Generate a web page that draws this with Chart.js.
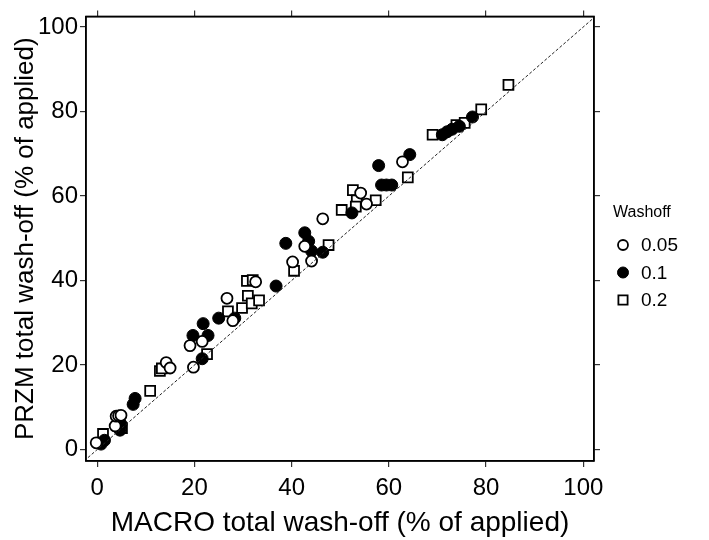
<!DOCTYPE html>
<html>
<head>
<meta charset="utf-8">
<script src="https://cdn.jsdelivr.net/npm/chart.js@4.4.1/dist/chart.umd.min.js"></script>
<style>
  html, body { margin: 0; padding: 0; background: #fff; }
  #wrap { width: 709px; height: 540px; }
</style>
</head>
<body>
<div id="wrap"><canvas id="chart" width="709" height="540"></canvas></div>
<script>
// MACRO (x) vs PRZM (y) total wash-off, % of applied
const washoff005 = [
  [-0.2, 1.6], [3.7, 5.6], [3.9, 7.9], [4.4, 8], [4.9, 8.1], [14.2, 20.6], [15, 19.3],
  [19.1, 24.6], [21.6, 25.6], [19.8, 19.5], [26.7, 35.8], [27.9, 30.5], [32.6, 39.7],
  [40.2, 44.4], [42.7, 48.1], [44.1, 44.6], [46.4, 54.6], [54.2, 60.7], [55.4, 58.1], [62.8, 68.1]
];
const washoff01 = [
  [0.8, 1.3], [1.5, 2.2], [4.9, 6], [4.7, 4.6], [7.4, 10.7], [7.8, 12.1], [19.7, 27], [22.8, 27],
  [21.6, 21.5], [21.8, 29.8], [25, 31.1], [28.3, 31.1], [36.8, 38.7], [38.8, 48.8], [42.7, 51.3],
  [43.5, 49.3], [44.1, 47], [46.4, 46.7], [52.4, 56], [57.9, 67.2], [58.5, 62.6], [59.5, 62.6],
  [60.6, 62.6], [64.3, 69.8], [71, 74.5], [72, 75.2], [73, 75.8], [74.5, 76.5], [77.2, 78.7]
];
const washoff02 = [
  [1.2, 3.7], [5.1, 5.1], [10.9, 13.9], [12.9, 18.6], [13.3, 19.2], [22.6, 22.6], [26.9, 32.7],
  [29.8, 33.5], [31, 36.4], [31.8, 34.6], [33.3, 35.3], [30.8, 39.9], [32, 40.1], [40.5, 42.3],
  [47.6, 48.4], [50.3, 56.7], [52.6, 61.4], [53.4, 59], [53.2, 57.5], [57.3, 59], [63.9, 64.4],
  [69, 74.5], [73.9, 76.8], [75.6, 77.3], [79, 80.5], [84.6, 86.3]
];
const oneToOne = [[-5, -5], [105, 105]];
const tickValues = [0, 20, 40, 60, 80, 100];
const legendTitle = 'Washoff';
const legendLabels = ['0.05', '0.1', '0.2'];
const xTitle = 'MACRO total wash-off (% of applied)';
const yTitle = 'PRZM total wash-off (% of applied)';

const FONT = '"Liberation Sans", Arial, Helvetica, sans-serif';
const toXY = arr => arr.map(([x, y]) => ({ x, y }));

const seriesStyles = [
  { pointStyle: 'circle', radius: 5.5, backgroundColor: '#fff', borderColor: '#000', borderWidth: 1.8 },
  { pointStyle: 'circle', radius: 6, backgroundColor: '#000', borderColor: '#000', borderWidth: 1 },
  { pointStyle: 'rect', radius: 7, backgroundColor: '#fff', borderColor: '#000', borderWidth: 1.8 }
];

const seriesData = [washoff005, washoff01, washoff02];
const datasets = seriesData.map((d, i) => ({
  label: legendLabels[i],
  data: toXY(d),
  showLine: false,
  pointStyle: seriesStyles[i].pointStyle,
  pointRadius: seriesStyles[i].radius,
  pointHoverRadius: seriesStyles[i].radius,
  pointBackgroundColor: seriesStyles[i].backgroundColor,
  pointBorderColor: seriesStyles[i].borderColor,
  pointBorderWidth: seriesStyles[i].borderWidth
}));
datasets.unshift({
  label: '1:1',
  data: toXY(oneToOne),
  showLine: true,
  borderColor: '#222',
  borderWidth: 1,
  borderDash: [3, 2],
  pointRadius: 0
});

const fixTicks = scale => { scale.ticks = tickValues.map(v => ({ value: v })); };

// box round the plot plus the legend on the right
const framePlugin = {
  id: 'frame',
  afterDraw(chart) {
    const { ctx, chartArea: a } = chart;
    ctx.save();
    ctx.strokeStyle = '#000';
    ctx.lineWidth = 1.5;
    ctx.strokeRect(a.left, a.top, a.right - a.left, a.bottom - a.top);

    ctx.fillStyle = '#000';
    ctx.textBaseline = 'middle';
    ctx.textAlign = 'left';
    ctx.font = '16px ' + FONT;
    ctx.fillText(legendTitle, 613, 213);
    ctx.font = '19px ' + FONT;
    legendLabels.forEach((lab, i) => {
      const y = 245 + i * 27.5;
      const s = seriesStyles[i];
      ctx.fillStyle = s.backgroundColor;
      ctx.strokeStyle = s.borderColor;
      ctx.lineWidth = s.borderWidth;
      Chart.helpers.drawPoint(ctx, { pointStyle: s.pointStyle, radius: s.radius - 0.5, borderWidth: s.borderWidth, rotation: 0 }, 623, y);
      ctx.fillStyle = '#000';
      ctx.fillText(lab, 641, y + 1);
    });
    ctx.restore();
  }
};

const axisCommon = {
  type: 'linear',
  grid: { drawOnChartArea: false, drawTicks: true, tickLength: 6, color: '#333', lineWidth: 1.2 },
  border: { display: true, color: '#000', width: 1.5 }
};

new Chart(document.getElementById('chart'), {
  type: 'scatter',
  data: { datasets },
  plugins: [framePlugin],
  options: {
    responsive: false,
    animation: false,
    events: [],
    layout: { padding: { left: 0, right: 0, top: 0, bottom: 0 } },
    plugins: { legend: { display: false }, tooltip: { enabled: false } },
    scales: {
      x: {
        ...axisCommon,
        position: 'bottom',
        min: -2.3, max: 102.2,
        afterBuildTicks: fixTicks,
        afterFit: s => { s.height = 79; },
        ticks: { color: '#000', font: { family: FONT, size: 24 }, padding: 7, maxRotation: 0 },
        title: { display: true, text: xTitle, color: '#000', font: { family: FONT, size: 28 }, padding: { top: 2, bottom: 0 } }
      },
      x2: {
        ...axisCommon,
        position: 'top',
        min: -2.3, max: 102.2,
        afterBuildTicks: fixTicks,
        afterFit: s => { s.height = 8; },
        ticks: { display: false }
      },
      y: {
        ...axisCommon,
        position: 'left',
        min: -2.7, max: 102.5,
        afterBuildTicks: fixTicks,
        afterFit: s => { s.width = 86; },
        ticks: { color: '#000', font: { family: FONT, size: 24 }, padding: 2 },
        title: { display: true, text: yTitle, color: '#000', font: { family: FONT, size: 26 }, padding: { top: 10, bottom: 0 } }
      },
      y2: {
        ...axisCommon,
        position: 'right',
        min: -2.7, max: 102.5,
        afterBuildTicks: fixTicks,
        afterFit: s => { s.width = 115; },
        ticks: { display: false }
      }
    }
  }
});
</script>
</body>
</html>
